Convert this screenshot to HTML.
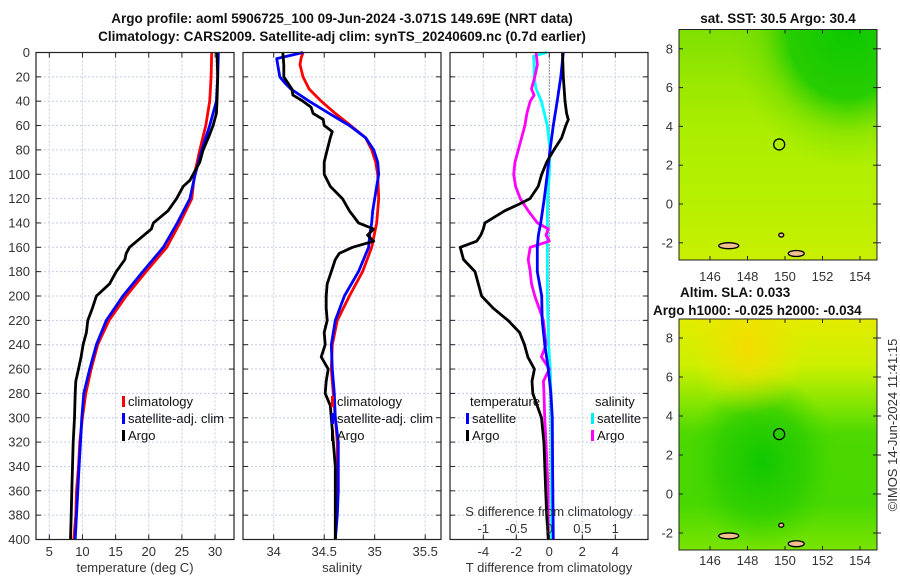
<!DOCTYPE html>
<html><head><meta charset="utf-8"><style>
body{margin:0;background:#fff;}
svg{display:block;font-family:"Liberation Sans","DejaVu Sans",sans-serif;}
.t{font-size:13px;fill:#333;}
.b{font-size:13.5px;font-weight:bold;fill:#111;}
</style></head><body>
<svg id="fig" width="900" height="580" viewBox="0 0 900 580" xmlns="http://www.w3.org/2000/svg">
<defs>
<linearGradient id="g1" x1="0" y1="0" x2="0" y2="1">
<stop offset="0" stop-color="#7ee000"/><stop offset="0.25" stop-color="#9ce800"/><stop offset="0.45" stop-color="#acee00"/><stop offset="0.75" stop-color="#b6f000"/><stop offset="1" stop-color="#c8f000"/></linearGradient>
<radialGradient id="g1b" cx="0.85" cy="0.0" r="0.6"><stop offset="0" stop-color="#0cc800"/><stop offset="0.5" stop-color="#22cc00" stop-opacity="0.95"/><stop offset="0.75" stop-color="#60d800" stop-opacity="0.4"/><stop offset="1" stop-color="#80e000" stop-opacity="0"/></radialGradient>
<linearGradient id="g2" x1="0" y1="0" x2="0" y2="1">
<stop offset="0" stop-color="#e2ec00"/><stop offset="0.2" stop-color="#ccf000"/><stop offset="0.35" stop-color="#8ce600"/><stop offset="0.5" stop-color="#4cd800"/><stop offset="0.8" stop-color="#48d800"/><stop offset="1" stop-color="#7ae400"/></linearGradient>
<radialGradient id="g2b" cx="0.42" cy="0.62" r="0.38"><stop offset="0" stop-color="#10c800"/><stop offset="0.6" stop-color="#28cc00" stop-opacity="0.7"/><stop offset="1" stop-color="#40d400" stop-opacity="0"/></radialGradient>
<radialGradient id="g2c" cx="0.35" cy="0.12" r="0.3"><stop offset="0" stop-color="#f4dc00"/><stop offset="1" stop-color="#eee400" stop-opacity="0"/></radialGradient>
</defs>
<g id="root"></g>
</svg>
<script>
// ---- data (depth in m) ----
const climDepth=[0,20,40,60,80,100,120,140,160,180,200,220,240,260,280,300,320,340,360,380,400];
const climT=[29.5,29.4,29.2,28.6,27.7,26.9,26.5,24.7,22.7,19.6,16.6,14.0,12.3,11.3,10.5,10.0,9.6,9.4,9.1,9.0,8.7];
const satT=[30.5,30.4,30.2,29.2,28.0,27.0,26.2,24.3,22.2,19.1,16.1,13.6,12.1,11.1,10.2,9.9,9.7,9.5,9.3,9.1,8.9];
const argoTDepth=[0,20,40,50,60,70,80,90,100,105,110,120,130,140,145,150,160,165,170,180,185,190,200,210,220,230,240,250,260,270,280,300,320,340,360,380,400];
const argoT=[30.3,30.4,30.3,30.2,29.7,29.0,28.2,27.7,26.7,26.2,25.2,24.2,22.9,20.7,20.4,19.3,17.1,16.6,16.4,15.1,14.6,14.1,12.1,11.5,10.8,10.6,10.1,9.8,9.4,9.0,8.9,8.8,8.6,8.5,8.4,8.3,8.2];
const climSDepth=[0,5,10,20,30,40,50,60,70,80,90,100,120,140,160,180,200,220,240,260,280,300,320,340,360,380,400];
const climS=[34.29,34.27,34.26,34.29,34.35,34.47,34.61,34.76,34.91,34.97,35.01,35.03,35.04,35.02,34.97,34.88,34.75,34.63,34.58,34.57,34.59,34.61,34.63,34.63,34.62,34.62,34.61];
const satSDepth=[0,5,10,20,25,30,40,50,60,70,80,90,100,110,120,130,140,150,160,180,200,220,240,260,280,300,320,340,360,380,400];
const satS=[34.29,34.03,34.04,34.06,34.11,34.17,34.35,34.55,34.75,34.91,34.99,35.03,35.04,35.02,35.00,34.98,34.97,34.95,34.94,34.84,34.70,34.61,34.57,34.58,34.60,34.61,34.64,34.64,34.64,34.63,34.61];
const argoSDepth=[0,10,20,25,30,35,40,45,50,55,60,65,70,80,90,100,110,120,130,140,145,150,155,160,165,170,180,190,200,210,220,230,240,250,260,270,280,290,300,320,340,360,380,400];
const argoS=[34.09,34.10,34.10,34.14,34.18,34.19,34.29,34.37,34.39,34.49,34.50,34.58,34.56,34.53,34.50,34.50,34.56,34.68,34.75,34.84,34.99,34.93,34.99,34.78,34.65,34.61,34.57,34.53,34.52,34.52,34.53,34.50,34.51,34.47,34.54,34.52,34.51,34.56,34.57,34.59,34.61,34.61,34.61,34.61];
const dTDepth=[0,20,40,60,80,100,120,140,150,160,180,200,220,240,260,280,300,340,400];
const satDT=[0.85,0.7,0.48,0.24,0.04,-0.12,-0.3,-0.52,-0.66,-0.73,-0.73,-0.46,-0.43,-0.27,-0.06,0.1,0.18,0.2,0.24];
const argoDTDepth=[0,20,40,50,55,60,70,80,90,100,110,120,125,130,140,145,150,155,160,170,180,190,200,210,220,230,240,250,260,270,280,300,320,340,360,380,400];
const argoDT=[0.8,0.85,0.95,1.05,1.15,1.0,0.75,0.28,-0.16,-0.46,-0.67,-1.17,-1.9,-2.7,-3.9,-4.0,-4.15,-4.4,-5.4,-5.2,-4.5,-4.3,-4.1,-3.4,-2.5,-1.8,-1.5,-1.3,-0.9,-1.05,-1.0,-0.47,-0.33,-0.27,-0.22,-0.16,-0.06];
const dSDepth=[0,3,10,20,30,40,60,80,100,120,140,160,200,240,260,280,320,400];
const satDS=[-0.04,-0.24,-0.23,-0.23,-0.2,-0.12,-0.03,0.01,0.0,-0.025,-0.03,-0.03,-0.03,-0.01,0.015,0.025,0.035,0.035];
const argoDSDepth=[0,10,20,30,35,40,50,60,70,80,90,100,110,120,130,140,145,150,155,160,170,180,190,200,220,240,250,260,270,280,300,320,360,400];
const argoDS=[-0.2,-0.18,-0.22,-0.27,-0.23,-0.29,-0.34,-0.37,-0.42,-0.47,-0.52,-0.54,-0.51,-0.44,-0.32,-0.18,-0.015,-0.05,0.0,-0.29,-0.32,-0.29,-0.27,-0.22,-0.09,-0.05,-0.12,0.0,-0.09,-0.08,-0.07,-0.05,-0.02,-0.015];
const depthTicks=[0,20,40,60,80,100,120,140,160,180,200,220,240,260,280,300,320,340,360,380,400];
const tTicks=[5,10,15,20,25,30];
const sTicks=[34,34.5,35,35.5];
const dtTicks=[-4,-2,0,2,4];
const dsTicks=[-1,-0.5,0,0.5,1];
const latTicks=[8,6,4,2,0,-2];
const lonTicks=[146,148,150,152,154];

const NS='http://www.w3.org/2000/svg';
const root=document.getElementById('root');
function el(tag,attrs,parent,text){const e=document.createElementNS(NS,tag);for(const k in attrs)e.setAttribute(k,attrs[k]);if(text!==undefined)e.textContent=text;(parent||root).appendChild(e);return e;}
const Y0=52.5,PH=487;
const yD=d=>Y0+d/400*PH;
const P=[36,243,450],PW=198;
const xT=t=>49.3+(t-5)*6.63;
const xS=s=>273.7+(s-34)*101;
const xDT=v=>549.3+v*16.5;
const xDS=v=>549.3+v*66;

P.forEach((px,i)=>{
  const g=el('g',{});
  
  
  depthTicks.forEach(d=>{
    const ln=el('line',{x1:px,x2:px+PW,y1:yD(d),y2:yD(d),stroke:'#c4cce8','stroke-width':1,'stroke-dasharray':'2,2'},g);
    
    
    el('line',{x1:px,x2:px+5,y1:yD(d),y2:yD(d),stroke:'#222'},g);
    el('line',{x1:px+PW-5,x2:px+PW,y1:yD(d),y2:yD(d),stroke:'#222'},g);
    if(i===0){const tl=el('text',{x:px-6,y:yD(d)+4.5,'text-anchor':'end',class:'t'},g,String(d));
      
      }
  });
  let ticks,fx;
  if(i===0){ticks=tTicks;fx=xT;}else if(i===1){ticks=sTicks;fx=xS;}else{ticks=dtTicks;fx=xDT;}
  ticks.forEach(v=>{
    el('line',{x1:fx(v),x2:fx(v),y1:Y0,y2:Y0+PH,stroke:'#c4cce8','stroke-width':1,'stroke-dasharray':'2,2'},g);
    el('line',{x1:fx(v),x2:fx(v),y1:Y0+PH-5,y2:Y0+PH,stroke:'#222'},g);
    el('line',{x1:fx(v),x2:fx(v),y1:Y0,y2:Y0+5,stroke:'#222'},g);
    const tl=el('text',{x:fx(v),y:556,'text-anchor':'middle',class:'t'},g,String(v));
    
    
  });
});
function line(xs,ds,fx,color,name,w){
  const pts=xs.map((v,k)=>fx(v).toFixed(1)+','+yD(ds[k]).toFixed(1)).join(' ');
  const p=el('polyline',{points:pts,fill:'none',stroke:color,'stroke-width':w||2.8,'stroke-linejoin':'round'});
  
  
}
el('line',{x1:xDT(0),x2:xDT(0),y1:Y0,y2:Y0+PH,stroke:'#333','stroke-width':1,'stroke-dasharray':'1,2'});
line(climT,climDepth,xT,'#ff0000','climatology-temperature-line');
line(satT,climDepth,xT,'#0000ff','satellite-temperature-line');
line(argoT,argoTDepth,xT,'#000','argo-temperature-line');
line(climS,climSDepth,xS,'#ff0000','climatology-salinity-line');
line(satS,satSDepth,xS,'#0000ff','satellite-salinity-line');
line(argoS,argoSDepth,xS,'#000','argo-salinity-line');
line(satDS,dSDepth,xDS,'#00ffff','satellite-s-diff-line');
line(argoDS,argoDSDepth,xDS,'#ff00ff','argo-s-diff-line');
line(satDT,dTDepth,xDT,'#0000ff','satellite-t-diff-line');
line(argoDT,argoDTDepth,xDT,'#000','argo-t-diff-line');
P.forEach(px=>el('rect',{x:px,y:Y0,width:PW,height:PH,fill:'none',stroke:'#222','stroke-width':1.2}));
dsTicks.forEach(v=>{const t=el('text',{x:xDS(v),y:533,'text-anchor':'middle',class:'t'},root,String(v));
  
  });
</script>
<script>
function L(parent,items,x,y0){items.forEach((it,k)=>{const y=y0+k*17;
  el('rect',{x:x,y:y-10,width:3,height:11,fill:it[1]},parent);
  const t=el('text',{x:x+6,y:y,class:'t',style:'fill:#111'},parent,it[0]);
  
  });}
const lg1=el('g',{});
L(lg1,[['climatology','#ff0000'],['satellite-adj. clim','#0000ff'],['Argo','#000']],122,406);
const lg2=el('g',{});
L(lg2,[['climatology','#ff0000'],['satellite-adj. clim','#0000ff'],['Argo','#000']],331,406);
const lg3=el('g',{});
el('text',{x:470,y:406,class:'t',style:'fill:#111'},lg3,'temperature');
el('text',{x:595,y:406,class:'t',style:'fill:#111'},lg3,'salinity');
L(lg3,[['satellite','#0000ff'],['Argo','#000']],466,423);
L(lg3,[['satellite','#00eeee'],['Argo','#ff00ff']],591,423);
const texts=[
 ['title-line-1',342,23,'middle','b','Argo profile: aoml 5906725_100 09-Jun-2024 -3.071S 149.69E (NRT data)'],
 ['title-line-2',342,41,'middle','b','Climatology: CARS2009. Satellite-adj clim: synTS_20240609.nc (0.7d earlier)'],
 ['x-axis-title-temperature',135,572,'middle','t','temperature (deg C)'],
 ['x-axis-title-salinity',342,572,'middle','t','salinity'],
 ['x-axis-title-t-diff',549,572,'middle','t','T difference from climatology'],
 ['s-diff-axis-title',549,516,'middle','t','S difference from climatology'],
 ['sst-map-title',778,23,'middle','b','sat. SST: 30.5 Argo: 30.4'],
 ['sla-map-title-1',680,297,'start','b','Altim. SLA: 0.033'],
 ['sla-map-title-2',653,315,'start','b','Argo h1000: -0.025 h2000: -0.034']];
texts.forEach(a=>{const t=el('text',{x:a[1],y:a[2],'text-anchor':a[3],class:a[4]},root,a[5]);
 
 });
const maps=[{y0:29.5,y1:260,lat0:204,s:19.4,fill:['url(#g1)','url(#g1b)'],lab:281,name:'sst-map'},
            {y0:319,y1:550,lat0:494,s:19.5,fill:['url(#g2)','url(#g2b)','url(#g2c)'],lab:565,name:'sla-map'}];
const lonX=l=>785+(l-150)*18.75;
maps.forEach(m=>{
  const g=el('g',{});
  
  
  m.fill.forEach(f=>el('rect',{x:679,y:m.y0,width:198,height:m.y1-m.y0,fill:f},g));
  const latY=l=>m.lat0-l*m.s;
  [[147,-2.15,10,3],[150.6,-2.55,8,3],[149.8,-1.6,2.5,2]].forEach(o=>el('ellipse',{cx:lonX(o[0]),cy:latY(o[1]),rx:o[2],ry:o[3],fill:'#f0c090',stroke:'#000','stroke-width':1.3},g));
  const c=el('circle',{cx:lonX(149.69),cy:latY(3.07),r:5.5,fill:'none',stroke:'#000','stroke-width':1.3},g);
  
  
  el('rect',{x:679,y:m.y0,width:198,height:m.y1-m.y0,fill:'none',stroke:'#222','stroke-width':1},g);
  latTicks.forEach(l=>{el('line',{x1:679,x2:683,y1:latY(l),y2:latY(l),stroke:'#222'},g);
    el('line',{x1:873,x2:881,y1:latY(l),y2:latY(l),stroke:'#222'},g);
    el('text',{x:673,y:latY(l)+4.5,'text-anchor':'end',class:'t'},g,String(l));});
  lonTicks.forEach(l=>{el('line',{x1:lonX(l),x2:lonX(l),y1:m.y1-4,y2:m.y1,stroke:'#222'},g);
    el('line',{x1:lonX(l),x2:lonX(l),y1:m.y0,y2:m.y0+4,stroke:'#222'},g);
    el('text',{x:lonX(l),y:m.lab,'text-anchor':'middle',class:'t'},g,String(l));});
});
const im=el('text',{x:0,y:0,transform:'translate(897,425) rotate(-90)','text-anchor':'middle',class:'t'},root,'©IMOS 14-Jun-2024 11:41:15');


</script>
</body></html>
